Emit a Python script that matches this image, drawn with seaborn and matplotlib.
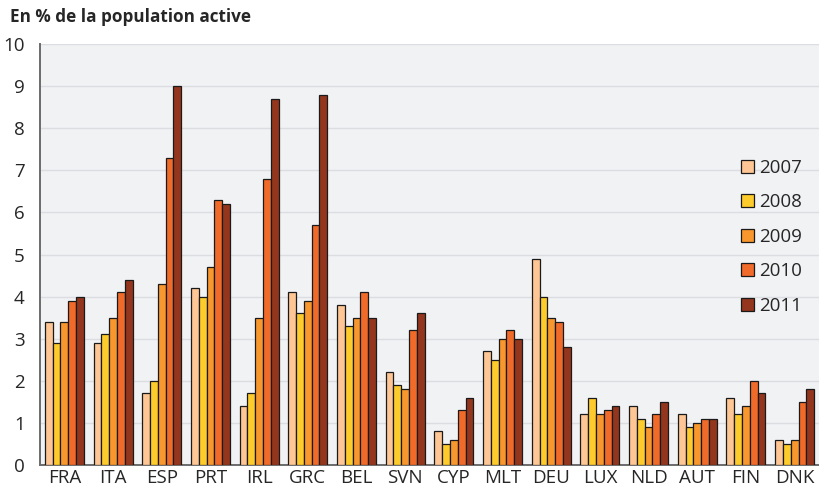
import pandas as pd
import matplotlib.pyplot as plt
import seaborn as sns
from matplotlib.ticker import FixedLocator

countries = ["FRA", "ITA", "ESP", "PRT", "IRL", "GRC", "BEL", "SVN",
             "CYP", "MLT", "DEU", "LUX", "NLD", "AUT", "FIN", "DNK"]
years = ["2007", "2008", "2009", "2010", "2011"]

v2007 = [3.4, 2.9, 1.7, 4.2, 1.4, 4.1, 3.8, 2.2, 0.8, 2.7, 4.9, 1.2, 1.4, 1.2, 1.6, 0.6]
v2008 = [2.9, 3.1, 2.0, 4.0, 1.7, 3.6, 3.3, 1.9, 0.5, 2.5, 4.0, 1.6, 1.1, 0.9, 1.2, 0.5]
v2009 = [3.4, 3.5, 4.3, 4.7, 3.5, 3.9, 3.5, 1.8, 0.6, 3.0, 3.5, 1.2, 0.9, 1.0, 1.4, 0.6]
v2010 = [3.9, 4.1, 7.3, 6.3, 6.8, 5.7, 4.1, 3.2, 1.3, 3.2, 3.4, 1.3, 1.2, 1.1, 2.0, 1.5]
v2011 = [4.0, 4.4, 9.0, 6.2, 8.7, 8.8, 3.5, 3.6, 1.6, 3.0, 2.8, 1.4, 1.5, 1.1, 1.7, 1.8]

colors = ["#FDC694", "#FDCB2B", "#F7972D", "#F06A2A", "#94361D"]

rows = []
for y, vals in zip(years, [v2007, v2008, v2009, v2010, v2011]):
    for c, v in zip(countries, vals):
        rows.append({"pays": c, "annee": y, "valeur": v})
df = pd.DataFrame(rows)

sns.set_style("white")
plt.rcParams["font.family"] = ["Open Sans", "DejaVu Sans"]

fig = plt.figure(figsize=(8.19, 4.91), dpi=100)
ax = fig.add_axes([40 / 819, 26 / 491, 779 / 819, 421 / 491])
ax.set_facecolor("#F1F2F4")

sns.barplot(data=df, x="pays", y="valeur", hue="annee", palette=colors,
            saturation=1, width=0.8, edgecolor="#1a1a1a", linewidth=0.9,
            ax=ax, zorder=3)

ax.set_ylim(0, 10)
ax.set_xlim(-0.5, len(countries) - 0.5)
ax.set_yticks(range(0, 11))
ax.yaxis.grid(True, color="#DCDDE0", linewidth=1.0, zorder=0)
ax.set_axisbelow(True)
ax.set_xlabel("")
ax.set_ylabel("")

for s in ["top", "right"]:
    ax.spines[s].set_visible(False)
for s in ["left", "bottom"]:
    ax.spines[s].set_color("#6b6b6b")
    ax.spines[s].set_linewidth(1.4)

ax.tick_params(axis="y", length=0, labelsize=13.5, pad=11)
ax.tick_params(axis="x", which="major", length=0, labelsize=13.5, pad=3)
ax.xaxis.set_minor_locator(FixedLocator([i + 0.5 for i in range(len(countries) - 1)]))
ax.tick_params(axis="x", which="minor", length=4, color="#6b6b6b", width=1)

fig.text(10 / 819, 1 - 17 / 491, "En % de la population active",
         fontsize=12.3, fontweight="bold", va="center", ha="left")

leg = ax.legend(loc="upper left", bbox_to_anchor=(0.89, 0.745), frameon=False,
                fontsize=13.5, handlelength=0.7, handleheight=0.7,
                labelspacing=0.88, handletextpad=0.3, borderaxespad=0)

fig.savefig("out.png", dpi=100)
